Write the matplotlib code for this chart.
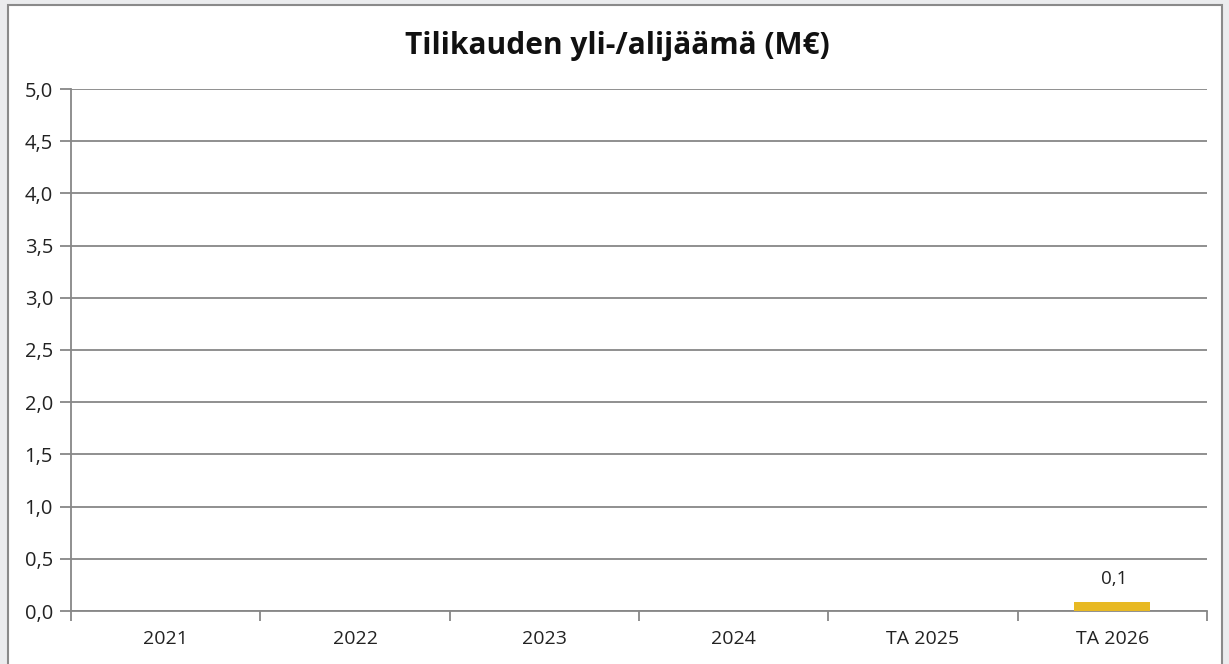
import matplotlib
matplotlib.use("Agg")
import matplotlib.pyplot as plt
import numpy as np
from matplotlib.patches import Rectangle
from matplotlib.ticker import FixedLocator, NullFormatter

categories = ["2021", "2022", "2023", "2024", "TA 2025", "TA 2026"]
values = [np.nan, np.nan, np.nan, np.nan, np.nan, 0.09]
bar_labels = ["", "", "", "", "", "0,1"]
yticks = [0.0, 0.5, 1.0, 1.5, 2.0, 2.5, 3.0, 3.5, 4.0, 4.5, 5.0]
ytick_labels = ["0,0", "0,5", "1,0", "1,5", "2,0", "2,5", "3,0", "3,5", "4,0", "4,5", "5,0"]
title = "Tilikauden yli-/alijäämä (M€)"

W, H = 1229, 664
plt.rcParams['font.family'] = ['Open Sans', 'DejaVu Sans']
fig = plt.figure(figsize=(W / 100, H / 100), dpi=100)
fig.patch.set_facecolor("#ebecee")

frame = Rectangle((8 / W, -0.01), (1222 - 8) / W, (H - 5) / H + 0.01, transform=fig.transFigure,
                  facecolor="white", edgecolor="#8a8a8a", linewidth=1.5, zorder=-5)
fig.patches.append(frame)

ax = fig.add_axes([71 / W, (H - 611) / H, (1207 - 71) / W, (611 - 89) / H])
ax.set_zorder(1)
ax.set_facecolor("white")
gray = "#878787"

x = np.arange(len(categories))
ax.bar(x, values, width=0.4, color="#e8b923", zorder=3)
for xi, v, lab in zip(x, values, bar_labels):
    if lab and not np.isnan(v):
        ax.text(xi + 0.01, v + 0.13, lab, ha="center", va="bottom", fontsize=13.5, color="#222222")

ax.set_xlim(-0.5, len(categories) - 0.5)
ax.set_ylim(0, 5)
ax.set_yticks(yticks)
ax.set_yticklabels(ytick_labels, fontsize=14.5, color="#222222")
ax.yaxis.grid(True, color=gray, linewidth=1.3, zorder=0)
ax.set_axisbelow(True)

ax.set_xticks(x)
ax.set_xticklabels(categories, fontsize=14, color="#222222")
ax.tick_params(axis="x", which="major", length=0, pad=14)
ax.xaxis.set_minor_locator(FixedLocator(np.arange(-0.5, len(categories), 1.0)))
ax.xaxis.set_minor_formatter(NullFormatter())
ax.tick_params(axis="x", which="minor", length=7, color=gray, width=1.3)
ax.tick_params(axis="y", length=8, color=gray, width=1.3, pad=5)

for s in ["top", "right"]:
    ax.spines[s].set_visible(False)
for s in ["left", "bottom"]:
    ax.spines[s].set_color(gray)
    ax.spines[s].set_linewidth(1.3)

t = fig.text(617 / W, 1 - 46 / H, title, ha="center", va="center", fontsize=21.5,
             fontweight="bold", color="#111111")
t.set_zorder(2)

fig.savefig("out.png", dpi=100)
